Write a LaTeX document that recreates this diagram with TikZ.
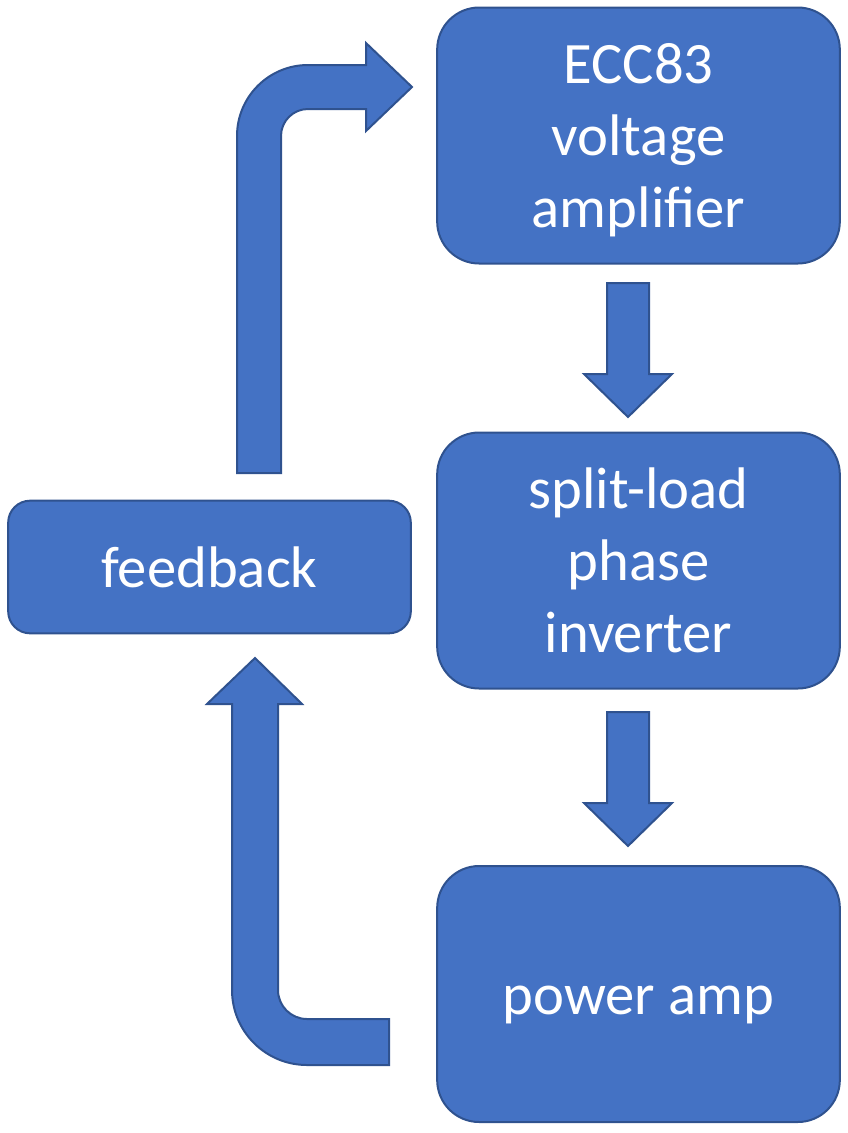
\documentclass[tikz,border=0pt]{standalone}
\usepackage{fontspec}
\setmainfont{Carlito}
\usetikzlibrary{positioning}
\definecolor{boxblue}{RGB}{68,114,196}
\definecolor{edgeblue}{RGB}{47,82,143}

\begin{document}
\begin{tikzpicture}[x=0.75pt, y=-0.75pt, line width=1.5pt,
  block/.style={draw=edgeblue, fill=boxblue, text=white, align=center,
    font=\fontsize{44}{54}\selectfont, inner sep=0pt, text depth=11pt,
    rounded corners=31.5pt, minimum width=302pt, minimum height=192pt},
  oneline/.style={text height=41pt},
  threeline/.style={text height=149pt},
  fatarrow/.style={draw=edgeblue, fill=boxblue}]
\useasboundingbox (0,0) rectangle (848,1133);
%\draw[step=50,gray,very thin] (0,0) grid (848,1133);
\node[block, threeline] (ecc) at (638.5,135.5) {ECC83\\voltage\\amplifier};%%
\node[block, threeline] (split) at (638.5,560.5) {split-load\\phase\\inverter};%%
\node[block, oneline] (power) at (638.5,994) {power amp};%%
\node[block, oneline, rounded corners=16.5pt, minimum height=99.5pt] (fb) at (209.5,567) {feedback};%%
% down arrows
\filldraw[fatarrow] (607,283) -- (649,283) -- (649,374) -- (672,374) -- (628,417) -- (584,374) -- (607,374) -- cycle;%%
\filldraw[fatarrow] (607,712) -- (649,712) -- (649,803) -- (672,803) -- (628,846) -- (584,803) -- (607,803) -- cycle;%%
% power amp back to feedback
\filldraw[fatarrow] (389,1019) -- (307,1019) arc (90:180:29) -- (278,704) -- (302,704) -- (255,658) -- (207,704) -- (232,704) -- (232,990) arc (180:90:75) -- (389,1065) -- cycle;%%
% feedback back to ECC83
\filldraw[fatarrow] (237,473) -- (237,136) arc (180:270:71) -- (366,65) -- (366,43) -- (412,87) -- (366,131) -- (366,109) -- (308,109) arc (270:180:27) -- (281,473) -- cycle;%%
\end{tikzpicture}
\end{document}
